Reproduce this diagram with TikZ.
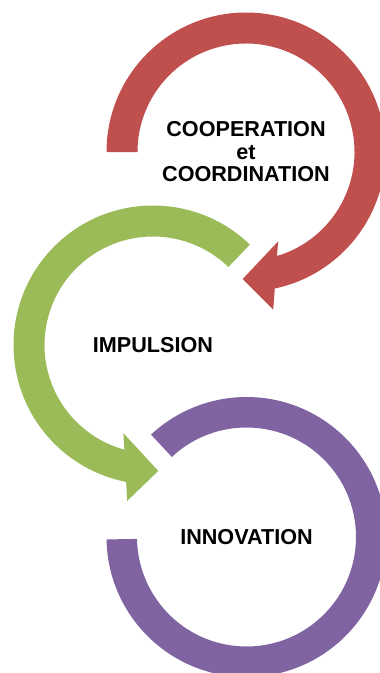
\documentclass[tikz,border=0pt]{standalone}
\usepackage{fontspec}
\setmainfont{Liberation Sans}
\usepackage{xcolor}
\usepackage{tikz}

\definecolor{coopred}{HTML}{C0504D}
\definecolor{impgreen}{HTML}{9BBB59}
\definecolor{innpurple}{HTML}{8064A2}

\begin{document}
\begin{tikzpicture}[
            x=0.02cm, y=0.02cm, yscale=-1,
            cyclelabel/.style={font=\fontsize{12.3}{12.8}\selectfont\bfseries, align=center, inner sep=0pt}
        ]
        \useasboundingbox (0,0) rectangle (379,673);

        % cooperation: clockwise, head at the bottom
        \begin{scope}[shift={(246,152)}]
            \fill[coopred] (180:139.5) arc[start angle=180, end angle=438.1, radius=139.5]
                -- (440.2:160) -- (451.5:127) -- (430.2:95) -- (433.4:108.5)
                arc[start angle=433.4, end angle=180, radius=108.5] -- cycle;
            \node[cyclelabel] (coop) at (0,0) {COOPERATION\\et\\COORDINATION};
        \end{scope}

        % impulsion: counter-clockwise, head at the bottom
        \begin{scope}[shift={(153,345)}]
            \fill[impgreen] (314:139.5) arc[start angle=314, end angle=101.1, radius=139.5]
                -- (99.4:158) -- (87.6:126) -- (108.6:93) -- (105.3:108.5)
                arc[start angle=105.3, end angle=314, radius=108.5] -- cycle;
            \node[cyclelabel] (imp) at (0,0) {IMPULSION};
        \end{scope}

        % innovation: open ring, no head
        \begin{scope}[shift={(246.5,537)}]
            \fill[innpurple] (179:140) arc[start angle=179, end angle=-133, radius=140]
                -- (-133:109.5) arc[start angle=-133, end angle=179, radius=109.5] -- cycle;
            \node[cyclelabel] (inn) at (0,0) {INNOVATION};
        \end{scope}

    \end{tikzpicture}
\end{document}
